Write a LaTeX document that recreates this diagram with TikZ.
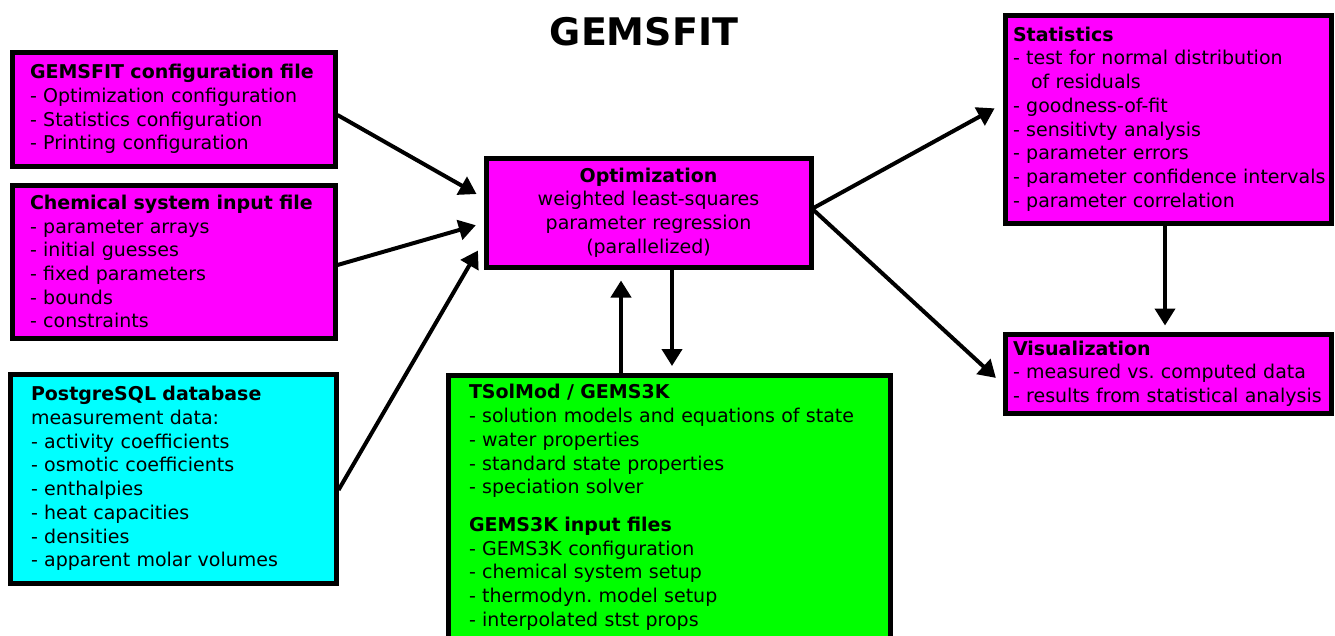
\documentclass[tikz,border=0pt]{standalone}
\usepackage{fontspec}
\setmainfont{DejaVu Sans}
\usetikzlibrary{arrows.meta,calc}
\definecolor{mag}{HTML}{FF00FF}
\definecolor{cyn}{HTML}{00FFFF}
\definecolor{grn}{HTML}{00FF00}
\hyphenpenalty=10000
\exhyphenpenalty=10000
\hbadness=10000
\hfuzz=50pt
\frenchspacing
\begin{document}
\begin{tikzpicture}[x=1pt,y=-1pt,
  box/.style={draw=black, line width=5pt, rectangle, align=left, inner ysep=0pt,
    font=\fontsize{19}{23.7}\selectfont},
  conn/.style={line width=4pt, -{Triangle[length=17pt,width=20pt]}}
]
\useasboundingbox (0,0) rectangle (1335,635);

\node (title) at (644,32) {\fontsize{38}{40}\selectfont\bfseries GEMSFIT};

\node[box, fill=mag, minimum width=323, minimum height=114, inner xsep=18, text width=287]
  (cfg) at (173.5,109)
  {\textbf{GEMSFIT configuration file}\\
   - Optimization configuration\\
   - Statistics configuration\\
   - Printing configuration};

\node[box, fill=mag, minimum width=323, minimum height=153, inner xsep=18, text width=287]
  (chem) at (173.5,261.5)
  {\textbf{Chemical system input file}\\
   - parameter arrays\\
   - initial guesses\\
   - fixed parameters\\
   - bounds\\
   - constraints};

\node[box, fill=cyn, minimum width=326, minimum height=209, inner xsep=21, text width=284]
  (db) at (173,478.5)
  {\textbf{PostgreSQL database}\\
   measurement data:\\
   - activity coefficients\\
   - osmotic coefficients\\
   - enthalpies\\
   - heat capacities\\
   - densities\\
   - apparent molar volumes};

\node[box, fill=mag, align=center, minimum width=325, minimum height=109, inner xsep=10, text width=305]
  (opt) at (648.5,212.5)
  {\textbf{Optimization}\\
   weighted least-squares\\
   parameter regression\\
   (parallelized)};

\node[box, fill=mag, minimum width=326, minimum height=208, inner xsep=8, text width=310]
  (stat) at (1168,119)
  {\textbf{Statistics}\\
   - test for normal distribution\\
   \hspace*{18pt}of residuals\\
   - goodness-of-fit\\
   - sensitivty analysis\\
   - parameter errors\\
   \mbox{- parameter confidence intervals}\\
   - parameter correlation};

\node[box, fill=mag, minimum width=326, minimum height=79, inner xsep=8, text width=310]
  (vis) at (1168,373.5)
  {\textbf{Visualization}\\
   - measured vs. computed data\\
   - results from statistical analysis};

\node[box, fill=grn, anchor=north, minimum width=442, inner xsep=21, inner ysep=9, text width=400]
  (tsol) at (669,373)
  {\textbf{TSolMod / GEMS3K}\\
   - solution models and equations of state\\
   - water properties\\
   - standard state properties\\
   - speciation solver\\[14pt]
   \textbf{GEMS3K input files}\\
   - GEMS3K configuration\\
   - chemical system setup\\
   - thermodyn. model setup\\
   - interpolated stst props\rule[-25pt]{0pt}{25pt}};

\draw[conn, shorten >=8pt] ($(cfg.east)+(0,6)$) -- ($(opt.west)+(0,-14.5)$);
\draw[conn, shorten >=8pt] ($(chem.east)+(0,3.5)$) -- ($(opt.west)+(0,10.5)$);
\draw[conn, shorten >=11pt] ($(db.east)+(0,11.5)$) -- ($(opt.west)+(0,28.5)$);
\draw[conn, shorten >=9pt] ($(opt.east)+(0,-4.5)$) -- ($(stat.west)+(0,-15)$);
\draw[conn, shorten >=9pt] ($(opt.east)+(0,-2.5)$) -- ($(vis.west)+(0,10.5)$);
\draw[conn, shorten >=6pt] ($(stat.south)+(-3,0)$) -- ($(vis.north)+(-3,0)$);
\coordinate (up) at (621,0);
\coordinate (dn) at (672,0);
\draw[conn, shorten >=11pt] (up |- tsol.north) -- (up |- opt.south);
\draw[conn, shorten >=7pt] (dn |- opt.south) -- (dn |- tsol.north);
\end{tikzpicture}
\end{document}
